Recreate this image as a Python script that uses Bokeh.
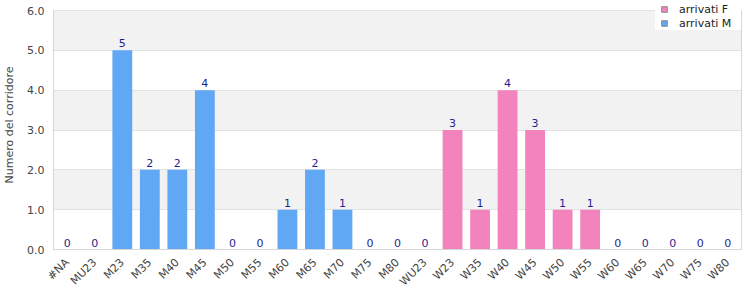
import math
from bokeh.plotting import figure
from bokeh.models import (FactorRange, Range1d, FixedTicker, PrintfTickFormatter, ColumnDataSource,
                          Legend, LegendItem, LinearAxis)
from bokeh.core.properties import value
from bokeh.embed import file_html
from bokeh.resources import INLINE

categories = ["#NA", "MU23", "M23", "M35", "M40", "M45", "M50", "M55", "M60", "M65",
              "M70", "M75", "M80", "WU23", "W23", "W35", "W40", "W45", "W50", "W55",
              "W60", "W65", "W70", "W75", "W80"]
arrivati_M = [0, 0, 5, 2, 2, 4, 0, 0, 1, 2, 1, 0, 0, 0, 0, 0, 0, 0, 0, 0, 0, 0, 0, 0, 0]
arrivati_F = [0, 0, 0, 0, 0, 0, 0, 0, 0, 0, 0, 0, 0, 0, 3, 1, 4, 3, 1, 1, 0, 0, 0, 0, 0]
totals = [m + f for m, f in zip(arrivati_M, arrivati_F)]
y_ticks = [0, 1, 2, 3, 4, 5, 6]
band_ticks = [0, 1, 2, 3, 4, 5, 6]
y_max = 6
y_top = y_max + 10 * y_max / 239

BLUE = "#60a8f4"
PINK = "#f383bc"
BORDER = "#d6d6d6"
FONT = "DejaVu Sans"

source = ColumnDataSource(dict(cat=categories, m=arrivati_M, f=arrivati_F, tot=totals,
                               lbl=[str(t) for t in totals]))

p = figure(width=750, height=300, x_range=FactorRange(*categories, range_padding=0),
           y_range=Range1d(0, y_top), output_backend="svg", toolbar_location=None,
           min_border_left=50, min_border_right=9, min_border_top=0, min_border_bottom=51)

p.vbar(x="cat", top="m", width=0.72, source=source, fill_color=BLUE, line_color=None)
p.vbar(x="cat", top="f", width=0.72, source=source, fill_color=PINK, line_color=None)
p.text(x="cat", y="tot", text="lbl", source=source, text_align="center", text_baseline="bottom",
       y_offset=-3, text_color="#1f1f8f", text_font_size="11px", text_font=value(FONT))

rf = p.scatter(x="cat", y="f", source=source, marker="square", size=0,
               fill_color=PINK, line_color="#8a8a8a")
rm = p.scatter(x="cat", y="m", source=source, marker="square", size=0,
               fill_color=BLUE, line_color="#8a8a8a")

legend = Legend(items=[LegendItem(label="arrivati F", renderers=[rf]),
                       LegendItem(label="arrivati M", renderers=[rm])],
                location=(602, 219), orientation="vertical",
                glyph_height=14, glyph_width=18, label_height=14, label_width=62,
                spacing=0, padding=1, margin=0, label_standoff=6,
                label_text_font_size="11px", label_text_font=FONT, label_text_color="#222222",
                border_line_color=None, background_fill_color="white", background_fill_alpha=1)
p.add_layout(legend, "center")

p.background_fill_color = "white"
p.outline_line_color = None
p.xgrid.grid_line_color = None
p.ygrid.ticker = FixedTicker(ticks=band_ticks)
p.ygrid.grid_line_color = "#e2e2e2"
p.ygrid.band_fill_color = "#f2f2f2"
p.ygrid.band_fill_alpha = 1

p.yaxis.ticker = FixedTicker(ticks=y_ticks)
p.yaxis.formatter = PrintfTickFormatter(format="%.1f")
p.yaxis.bounds = (0, y_max)
p.yaxis.axis_label = "Numero del corridore"
p.yaxis.axis_label_text_font_style = "normal"
p.yaxis.axis_label_text_font_size = "11px"
p.yaxis.axis_label_text_font = FONT
p.yaxis.axis_label_text_color = "#444444"
p.yaxis.axis_label_standoff = 8

for ax in (p.xaxis, p.yaxis):
    ax.axis_line_color = BORDER
    ax.major_tick_line_color = None
    ax.minor_tick_line_color = None
    ax.major_tick_out = 0
    ax.major_tick_in = 0
    ax.major_label_text_font_size = "11px"
    ax.major_label_text_font = FONT
    ax.major_label_text_color = "#444444"

p.yaxis.major_label_standoff = 9
p.xaxis.major_label_orientation = math.pi / 4
p.xaxis.major_label_standoff = 11

right_axis = LinearAxis(ticker=FixedTicker(ticks=[]), bounds=(0, y_max), axis_line_color=BORDER,
                        major_tick_line_color=None, minor_tick_line_color=None,
                        major_tick_out=0, major_tick_in=0, major_label_text_font_size="0px",
                        major_label_standoff=0)
p.add_layout(right_axis, "right")

open("out.html", "w").write(file_html(p, INLINE))
